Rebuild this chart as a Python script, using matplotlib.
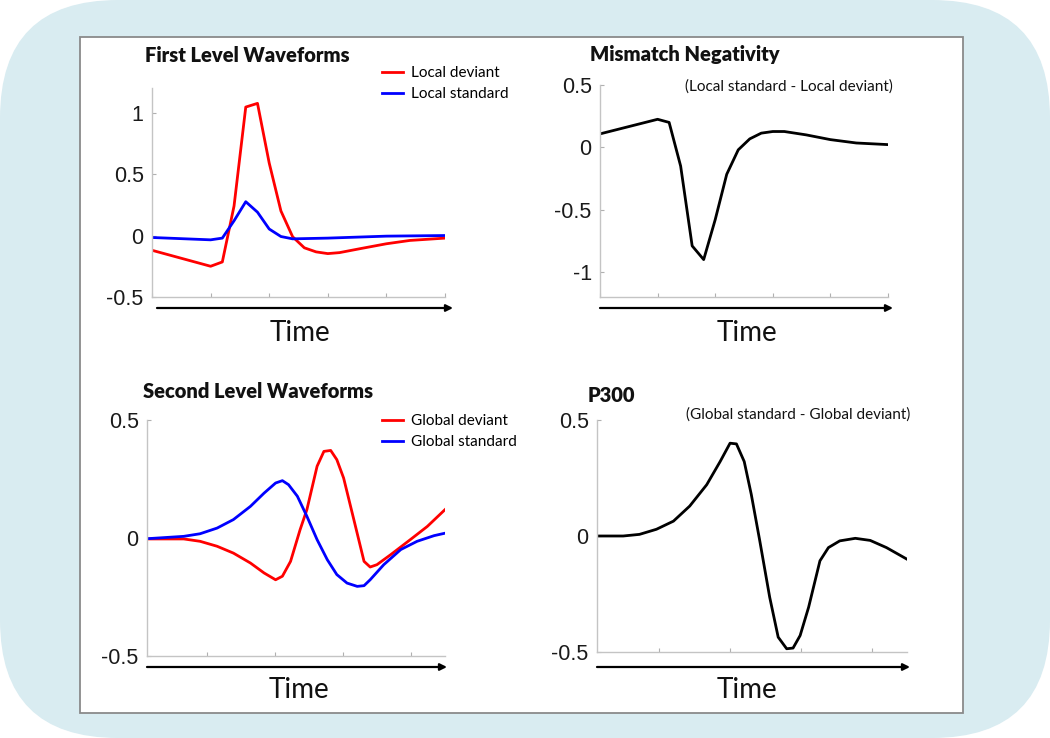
import numpy as np
import matplotlib
matplotlib.use("Agg")
import matplotlib.pyplot as plt
from matplotlib.patches import FancyBboxPatch, Rectangle

plt.rcParams['axes.unicode_minus'] = False

# ---- data ----
# first level (local) waveforms
t1_dev = [0, 1.0, 1.2, 1.4, 1.6, 1.8, 2.0, 2.2, 2.4, 2.6, 2.8, 3.0, 3.2, 3.55, 4.0, 4.4, 5.0]
local_deviant = [-0.12, -0.25, -0.215, 0.24, 1.045, 1.075, 0.59, 0.2, -0.01, -0.1, -0.133, -0.147,
                 -0.139, -0.107, -0.067, -0.04, -0.021]
t1_std = [0, 1.0, 1.2, 1.4, 1.6, 1.8, 2.0, 2.2, 2.4, 3.0, 4.0, 5.0]
local_standard = [-0.016, -0.035, -0.021, 0.12, 0.275, 0.19, 0.053, -0.008, -0.027, -0.021, -0.005, 0.0]

# mismatch negativity
t_mmn = [0, 1.0, 1.2, 1.4, 1.6, 1.8, 2.0, 2.2, 2.4, 2.6, 2.8, 3.0, 3.2, 3.58, 4.0, 4.45, 5.0]
mmn = [0.108, 0.225, 0.2, -0.15, -0.79, -0.9, -0.58, -0.216, -0.02, 0.068, 0.114, 0.127, 0.127,
       0.1, 0.062, 0.035, 0.022]

# second level (global) waveforms
t2_dev = [0.12, 0.66, 0.9, 1.15, 1.39, 1.64, 1.84, 2.01, 2.11, 2.23, 2.37, 2.47, 2.62, 2.72, 2.82,
          2.91, 3.01, 3.16, 3.31, 3.4, 3.5, 3.7, 3.99, 4.24, 4.51]
global_deviant = [-0.004, -0.004, -0.014, -0.035, -0.064, -0.106, -0.148, -0.177, -0.162, -0.099,
                  0.035, 0.12, 0.304, 0.367, 0.371, 0.332, 0.254, 0.078, -0.099, -0.123, -0.113,
                  -0.071, -0.007, 0.049, 0.123]
t2_std = [0.12, 0.66, 0.9, 1.15, 1.39, 1.64, 1.84, 2.01, 2.11, 2.2, 2.33, 2.47, 2.62, 2.77, 2.91,
          3.06, 3.21, 3.31, 3.4, 3.6, 3.85, 4.09, 4.34, 4.51]
global_standard = [-0.003, 0.007, 0.018, 0.042, 0.078, 0.134, 0.19, 0.233, 0.243, 0.226, 0.177,
                   0.092, -0.007, -0.092, -0.155, -0.191, -0.205, -0.202, -0.177, -0.113, -0.049,
                   -0.014, 0.01, 0.021]

# P300
t_p3 = [0.12, 0.49, 0.72, 0.96, 1.2, 1.43, 1.67, 1.86, 2.0, 2.09, 2.2, 2.3, 2.42, 2.56, 2.68, 2.8,
        2.89, 2.99, 3.11, 3.27, 3.39, 3.55, 3.77, 3.98, 4.21, 4.5]
p300 = [0, 0, 0.007, 0.029, 0.064, 0.129, 0.221, 0.321, 0.4, 0.397, 0.321, 0.179, -0.021, -0.264,
        -0.436, -0.486, -0.483, -0.429, -0.307, -0.107, -0.05, -0.021, -0.01, -0.019, -0.05, -0.1]

W, H = 1050, 738
fig = plt.figure(figsize=(W / 100, H / 100), dpi=100)
fig.patch.set_facecolor('white')

# background in pixel coordinates
bg = fig.add_axes([0, 0, 1, 1])
bg.set_xlim(0, W)
bg.set_ylim(H, 0)
bg.axis('off')
bg.add_patch(FancyBboxPatch((118, 118), W - 236, H - 236, boxstyle="round,pad=118",
                            fc='#d9ecf1', ec='none'))
bg.add_patch(Rectangle((80, 37), 883, 676, fc='white', ec='#8a8a8a', lw=1.3))

title_font = dict(family='Lato', fontweight='heavy', fontsize=14.5, color='#111111')
label_font = dict(family='Lato', fontsize=20, color='#111111')
note_font = dict(family='Lato', fontsize=11, color='#111111')


def px_axes(l, t, r, b):
    return fig.add_axes([l / W, 1 - b / H, (r - l) / W, (b - t) / H])


def style(ax, xlim, xticks, ylim, yticks, ylabels):
    ax.set_xlim(*xlim)
    ax.set_ylim(*ylim)
    ax.set_xticks(xticks)
    ax.set_xticklabels([])
    ax.set_yticks(yticks)
    ax.set_yticklabels(ylabels, family='Liberation Sans', fontsize=15.5, color='#1a1a1a')
    for s in ['top', 'right']:
        ax.spines[s].set_visible(False)
    for s in ['left', 'bottom']:
        ax.spines[s].set_color('#c4c4c4')
        ax.spines[s].set_linewidth(1)
    ax.tick_params(direction='in', length=3, color='#b0b0b0', pad=6)
    ax.patch.set_alpha(0)


def arrow(x0, x1, y):
    bg.annotate('', xy=(x1, y), xytext=(x0, y),
                arrowprops=dict(arrowstyle='-|>', color='black', lw=1.6,
                                mutation_scale=10, shrinkA=0, shrinkB=0))


leg_kw = dict(loc='upper left', bbox_transform=bg.transData, frameon=False,
              prop=dict(family='Lato', size=11), handlelength=1.4, handletextpad=0.5,
              labelspacing=0.45, borderaxespad=0, borderpad=0)

# first level waveforms
ax1 = px_axes(152, 88, 445, 297)
ax1.plot(t1_dev, local_deviant, color='#ff0000', lw=2, label='Local deviant')
ax1.plot(t1_std, local_standard, color='#0000ff', lw=2, label='Local standard')
style(ax1, (0, 5), [0, 1, 2, 3, 4, 5], (-0.5, 1.2), [-0.5, 0, 0.5, 1], ['-0.5', '0', '0.5', '1'])
ax1.legend(bbox_to_anchor=(382, 66), **leg_kw)

# mismatch negativity
ax2 = px_axes(600, 85, 888, 297)
ax2.plot(t_mmn, mmn, color='black', lw=2)
style(ax2, (0, 5), [0, 1, 2, 3, 4, 5], (-1.2, 0.5), [-1, -0.5, 0, 0.5], ['-1', '-0.5', '0', '0.5'])

# second level waveforms
ax3 = px_axes(147, 420, 445, 656)
ax3.plot(t2_dev, global_deviant, color='#ff0000', lw=2, label='Global deviant')
ax3.plot(t2_std, global_standard, color='#0000ff', lw=2, label='Global standard')
style(ax3, (0.12, 4.5), [1, 2, 3, 4], (-0.5, 0.5), [-0.5, 0, 0.5], ['-0.5', '0', '0.5'])
ax3.legend(bbox_to_anchor=(382, 414), **leg_kw)

# P300
ax4 = px_axes(597, 420, 907, 652)
ax4.plot(t_p3, p300, color='black', lw=2)
style(ax4, (0.12, 4.5), [1, 2, 3, 4], (-0.5, 0.5), [-0.5, 0, 0.5], ['-0.5', '0', '0.5'])

# titles, notes, time arrows
bg.text(145, 55, 'First Level Waveforms', ha='left', va='center', **title_font)
bg.text(590, 55, 'Mismatch Negativity', ha='left', va='center', **title_font)
bg.text(143, 392, 'Second Level Waveforms', ha='left', va='center', **title_font)
bg.text(588, 395, 'P300', ha='left', va='center', **title_font)
bg.text(893, 87, '(Local standard - Local deviant)', ha='right', va='center', **note_font)
bg.text(910, 415, '(Global standard - Global deviant)', ha='right', va='center', **note_font)

for x0, x1, y, xc, yt in [(157, 453, 308, 300, 333), (600, 893, 308, 747, 333),
                          (147, 447, 667, 299, 690), (597, 910, 667, 747, 690)]:
    arrow(x0, x1, y)
    bg.text(xc, yt, 'Time', ha='center', va='center', **label_font)

fig.savefig('out.png', dpi=100)
